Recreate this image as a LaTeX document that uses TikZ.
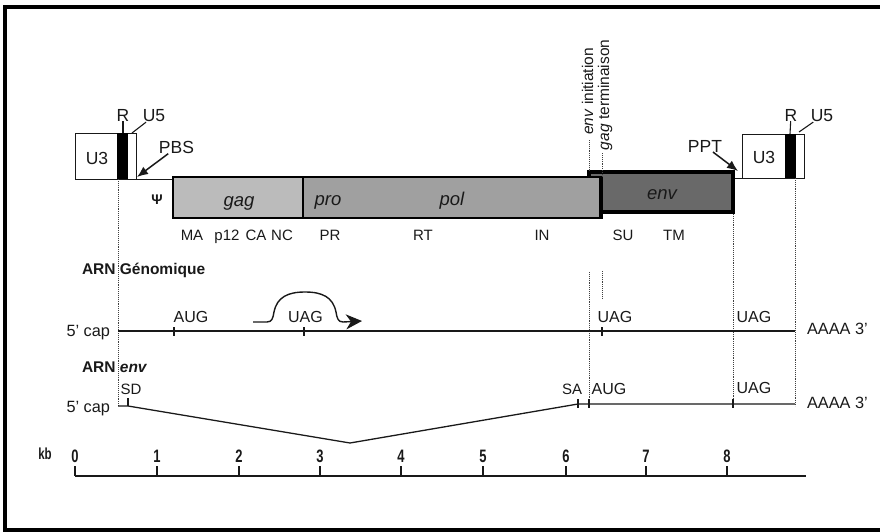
\documentclass[tikz,border=0pt]{standalone}
\usepackage{fontspec}
\setmainfont{Liberation Sans}
\newfontfamily\narrowfont{Liberation Sans}[FakeStretch=0.72]
\usetikzlibrary{arrows.meta}
\definecolor{gaggray}{RGB}{187,187,187}
\definecolor{polgray}{RGB}{160,160,160}
\definecolor{envgray}{RGB}{105,105,105}
\definecolor{ink}{RGB}{25,25,25}
\begin{document}
\begin{tikzpicture}[x=1pt,y=-1pt,
  every node/.style={inner sep=0pt, outer sep=0pt, text=ink},
  ltrlbl/.style={font=\fontsize{17.5}{19}\selectfont},
  genelbl/.style={font=\fontsize{18.5}{20}\selectfont\itshape, anchor=base},
  prot/.style={font=\fontsize{15}{17}\selectfont, anchor=base},
  codon/.style={font=\fontsize{16}{18}\selectfont, anchor=base},
  rnatitle/.style={font=\fontsize{15.5}{17}\selectfont\bfseries, anchor=base west},
  ends/.style={font=\fontsize{16.3}{18}\selectfont},
  rotlbl/.style={font=\fontsize{15.5}{17}\selectfont, rotate=90, anchor=base west},
  scalelbl/.style={font=\narrowfont\bfseries\fontsize{18}{20}\selectfont, anchor=base},
  guide/.style={densely dotted, line width=0.9pt, black!75},
  rna/.style={line width=1.3pt, ink},
  tickmark/.style={line width=1.1pt, ink},
  ltrbox/.style={draw=ink, line width=1pt, fill=white},
  pointer/.style={line width=1.5pt, ink, -{Latex[length=11pt,width=9pt]}}
]
\useasboundingbox (0,0) rectangle (880,532);
% frame
\draw[line width=4pt, black] (5,7) rectangle (890,530);

% ---------- left LTR ----------
\draw[ltrbox] (75,133) rectangle (136,179);
\fill[black] (117,133) rectangle (128,179);
\node[ltrlbl] (u3a) at (97,158) {U3};
\node[ltrlbl] (ra) at (123,115) {R};
\node[ltrlbl] (u5a) at (154,116) {U5};
\coordinate (ra-foot) at (123,133);
\coordinate (u5a-foot) at (132,133);
\draw[tickmark] (ra) -- (ra-foot);
\draw[tickmark] (u5a) -- (u5a-foot);
\node[ltrlbl] (pbs) at (176.5,147.5) {PBS};
\coordinate (pbs-site) at (137,177);
\draw[pointer] (pbs) -- (pbs-site);
\draw[line width=1pt, ink] (136,179) -- (173,179);

% ---------- right LTR ----------
\draw[ltrbox] (742,134) rectangle (804,178);
\fill[black] (785,134) rectangle (796,178);
\node[ltrlbl] (u3b) at (764,157) {U3};
\node[ltrlbl] (rb) at (791,115) {R};
\node[ltrlbl] (u5b) at (822,116) {U5};
\coordinate (rb-foot) at (790,134);
\coordinate (u5b-foot) at (799,132);
\draw[tickmark] (rb) -- (rb-foot);
\draw[tickmark] (u5b) -- (u5b-foot);
\node[ltrlbl] (ppt) at (705,146) {PPT};
\coordinate (ppt-site) at (738,171);
\draw[pointer] (ppt) -- (ppt-site);
\draw[line width=1pt, ink] (733,178) -- (742,178);

% ---------- genes ----------
\draw[line width=4pt, fill=envgray] (589,172) rectangle (733,212);
\draw[line width=2.5pt, fill=gaggray] (173,177) rectangle (303,218);
\draw[line width=2.5pt, fill=polgray] (303,177) rectangle (601,218);
\draw[line width=4pt] (601,176) -- (601,219);
\node[font=\fontsize{14}{15}\selectfont\bfseries] (psi) at (157,200) {Ψ};
\node[genelbl] (gag) at (239,206) {gag};
\node[genelbl] (pro) at (328,205) {pro};
\node[genelbl] (pol) at (452,205) {pol};
\node[genelbl] (env) at (662,199) {env};

\node[prot] (ma) at (192,240) {MA};
\node[prot] (p12) at (227,240) {p12};
\node[prot] (ca) at (256,240) {CA};
\node[prot] (nc) at (282,240) {NC};
\node[prot] (pr) at (330,240) {PR};
\node[prot] (rt) at (423,240) {RT};
\node[prot] (in) at (542,240) {IN};
\node[prot] (su) at (623,240) {SU};
\node[prot] (tm) at (674,240) {TM};

\node[rotlbl] (envini) at (593,135) {\textit{env} initiation};
\node[rotlbl] (gagter) at (609,150) {\textit{gag} terminaison};

% ---------- guides ----------
\draw[guide] (118,179) -- (118,406);
\draw[guide] (589,140) -- (589,172);
\draw[guide] (602,153) -- (602,177);
\draw[guide] (589,272) -- (589,406);
\draw[guide] (602,271) -- (602,299);
\draw[guide] (733,214) -- (733,406);
\draw[guide] (795,178) -- (795,406);

% ---------- genomic RNA ----------
\node[rnatitle] (arng) at (82,274) {ARN Génomique};
\node[ends, anchor=base east] (capg) at (110,336) {5' cap};
\node[ends, anchor=base west] (polyag) at (807,334) {AAAA 3'};
\draw[rna] (118,331) -- (795,331);
\foreach \x in {174,304,602} \draw[tickmark] (\x,327) -- (\x,336);
\node[codon] (aug1) at (191,322) {AUG};
\node[codon] (uag1) at (305.5,322) {UAG};
\node[codon] (uag2) at (615,322) {UAG};
\node[codon] (uag3) at (754,322) {UAG};
\draw[line width=1.4pt, ink, -{Stealth[length=16pt,width=15pt,inset=5pt]}]
  (253,322) -- (267,322) .. controls (272,322) and (273,318) .. (274,312)
  .. controls (277,297) and (288,292) .. (305,292)
  .. controls (322,292) and (333,297) .. (336,312)
  .. controls (337,318) and (338,322) .. (343,322) -- (362,321);

% ---------- env RNA ----------
\node[rnatitle] (arne) at (82,372) {ARN \textit{env}};
\node[ends, anchor=base east] (cape) at (110,412) {5' cap};
\node[ends, anchor=base west] (polyae) at (807,408) {AAAA 3'};
\draw[rna] (118,406) -- (128,406) -- (350,443) -- (578,404) -- (795,404);
\draw[tickmark] (128,398) -- (128,406);
\draw[tickmark] (578,399) -- (578,408);
\draw[tickmark] (589,399) -- (589,408);
\draw[tickmark] (733,399) -- (733,408);
\node[prot] (sd) at (131,394) {SD};
\node[prot] (sa) at (572,394) {SA};
\node[codon] (aug2) at (609,394) {AUG};
\node[codon] (uag4) at (754,393) {UAG};

% ---------- scale ----------
\node[font=\narrowfont\bfseries\fontsize{16}{18}\selectfont, anchor=base] (kb) at (45,459) {kb};
\draw[line width=1.6pt, ink] (75,476) -- (806,476);
\foreach \x/\n in {75/0,157/1,239/2,320/3,401/4,483/5,566/6,646/7,727/8} {
  \draw[tickmark] (\x,466) -- (\x,476);
  \node[scalelbl] (kb\n) at (\x,462) {\n};
}
\end{tikzpicture}
\end{document}
